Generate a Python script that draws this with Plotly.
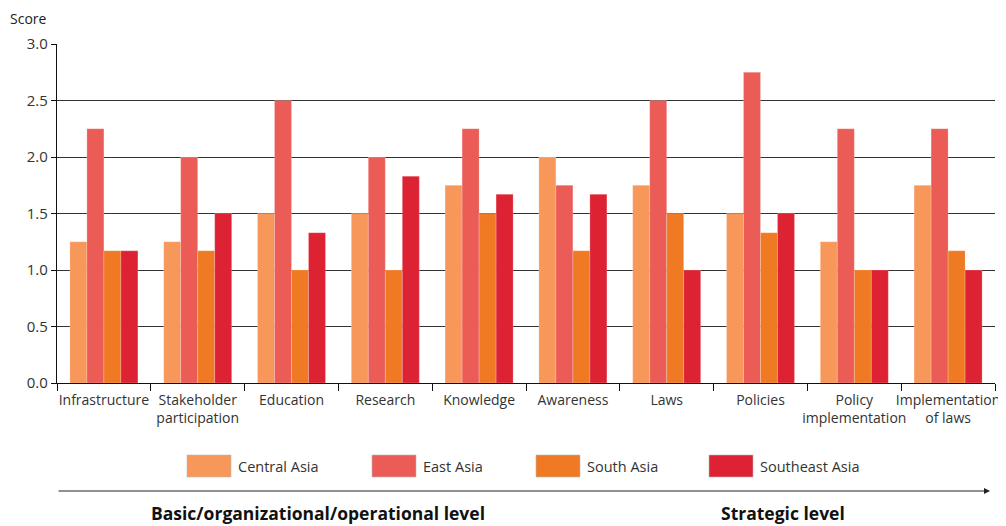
import plotly.graph_objects as go

categories = ["Infrastructure", "Stakeholder<br>participation", "Education", "Research",
              "Knowledge", "Awareness", "Laws", "Policies", "Policy<br>implementation",
              "Implementation<br>of laws"]
central_asia = [1.25, 1.25, 1.5, 1.5, 1.75, 2.0, 1.75, 1.5, 1.25, 1.75]
east_asia = [2.25, 2.0, 2.5, 2.0, 2.25, 1.75, 2.5, 2.75, 2.25, 2.25]
south_asia = [1.17, 1.17, 1.0, 1.0, 1.5, 1.17, 1.5, 1.33, 1.0, 1.17]
southeast_asia = [1.17, 1.5, 1.33, 1.83, 1.67, 1.67, 1.0, 1.5, 1.0, 1.0]
series_names = ["Central Asia", "East Asia", "South Asia", "Southeast Asia"]
series_values = [central_asia, east_asia, south_asia, southeast_asia]
colors = ["#F7975A", "#EB5C56", "#EF7A23", "#DD2333"]
y_ticks = [0.0, 0.5, 1.0, 1.5, 2.0, 2.5, 3.0]

# page has an 8px body margin; compensate so the chart fills the window
OFF = 8
WIN_W, WIN_H = 1006, 526
PL, PT, PR, PB = 57, 44, 995, 383   # plot area in window pixels
W, H = WIN_W - OFF, WIN_H - OFF
L, T = PL - OFF, PT - OFF
R, B = WIN_W - PR, WIN_H - PB
pw, ph = PR - PL, PB - PT

def px(x):
    return (x - PL) / pw

def py(y):
    return (PB - y) / ph

FONT = "Open Sans"
fig = go.Figure()
for name, vals, col in zip(series_names, series_values, colors):
    fig.add_trace(go.Bar(x=categories, y=vals, name=name, marker_color=col,
                         marker_line=dict(color="rgba(255,255,255,0.35)", width=0.6),
                         showlegend=False))

shapes = []
annotations = []
# custom legend
leg_x = [187, 372, 536, 709]
for xs, name, col in zip(leg_x, series_names, colors):
    shapes.append(dict(type="rect", xref="paper", yref="paper",
                       x0=px(xs), x1=px(xs + 44), y0=py(477), y1=py(455),
                       fillcolor=col, line=dict(color="#bbbbbb", width=0.6)))
    annotations.append(dict(x=px(xs + 49), y=py(466), xref="paper", yref="paper",
                            text=name, showarrow=False, xanchor="left", yanchor="middle",
                            font=dict(family=FONT, size=14.5, color="#333333")))
# arrow
annotations.append(dict(x=px(990), y=py(491), xref="paper", yref="paper",
                        ax=-(990 - 57), ay=0, axref="pixel", ayref="pixel",
                        showarrow=True, arrowhead=2, arrowsize=1, arrowwidth=1.2,
                        arrowcolor="#222222", text=""))
annotations.append(dict(x=px(318), y=py(513), xref="paper", yref="paper",
                        text="<b>Basic/organizational/operational level</b>", showarrow=False,
                        xanchor="center", yanchor="middle",
                        font=dict(family=FONT, size=17.5, color="#111111")))
annotations.append(dict(x=px(783), y=py(513), xref="paper", yref="paper",
                        text="<b>Strategic level</b>", showarrow=False,
                        xanchor="center", yanchor="middle",
                        font=dict(family=FONT, size=17.5, color="#111111")))
annotations.append(dict(x=px(9), y=py(18), xref="paper", yref="paper",
                        text="Score", showarrow=False, xanchor="left", yanchor="middle",
                        borderpad=0,
                        font=dict(family=FONT, size=14, color="#222222")))

fig.update_layout(
    width=W, height=H,
    margin=dict(l=L, r=R, t=T, b=B, autoexpand=False),
    paper_bgcolor="white", plot_bgcolor="white",
    barmode="group", bargap=0.275, bargroupgap=0,
    font=dict(family=FONT, size=14, color="#333333"),
    shapes=shapes, annotations=annotations,
    xaxis=dict(showline=True, linecolor="#111111", linewidth=1.2,
               ticks="outside", tickson="boundaries", ticklen=7, tickcolor="#111111",
               tickangle=0, automargin=False, ticklabelstandoff=4,
               tickfont=dict(family=FONT, size=14, color="#333333"),
               showgrid=False),
    yaxis=dict(range=[0, 3.0], tickvals=y_ticks, ticktext=[f"{v:.1f}" for v in y_ticks],
               showline=True, linecolor="#111111", linewidth=1.2,
               ticks="outside", ticklen=5, tickcolor="#111111",
               showgrid=True, gridcolor="#333333", gridwidth=1,
               zeroline=False, automargin=False,
               tickfont=dict(family=FONT, size=15, color="#333333")),
)

fig.write_html("out.html")
